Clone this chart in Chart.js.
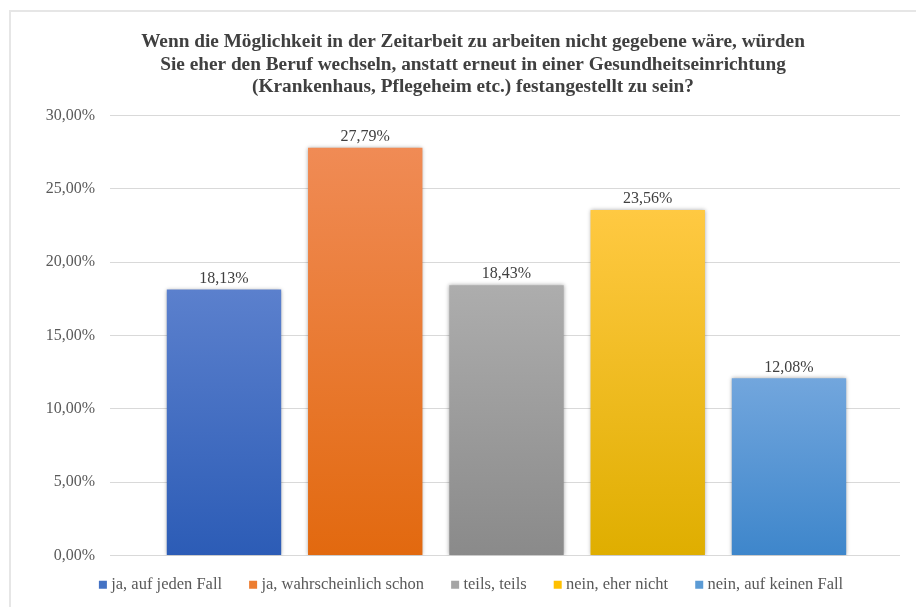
<!DOCTYPE html>
<html lang="de">
<head>
<meta charset="utf-8">
<title>Zeitarbeit – Berufswechsel</title>
<script src="https://cdn.jsdelivr.net/npm/chart.js@4.4.1/dist/chart.umd.min.js"></script>
<style>
  html, body { margin: 0; padding: 0; background: #fff; }
  #wrap { position: relative; width: 916px; height: 607px; overflow: hidden; }
  #frame { position: absolute; left: 9px; top: 10px; width: 1000px; height: 700px;
           border-left: 2px solid #e6e6e6; border-top: 2px solid #e6e6e6; }
  #chart { position: absolute; left: 0; top: 0; }
</style>
</head>
<body>
<div id="wrap">
  <div id="frame"></div>
  <canvas id="chart" width="916" height="607"></canvas>
</div>
<script>
// Daten
const categories = ['ja, auf jeden Fall', 'ja, wahrscheinlich schon', 'teils, teils', 'nein, eher nicht', 'nein, auf keinen Fall'];
const values = [18.13, 27.79, 18.43, 23.56, 12.08];
const yTicks = [0, 5, 10, 15, 20, 25, 30];

// Farben (oben hell, unten dunkel)
const topColors = ['#5b80cd', '#f08b55', '#adadad', '#ffc942', '#72a6dd'];
const bottomColors = ['#2c5cb6', '#e2690f', '#8a8a8a', '#dfae00', '#3e86cb'];
const legendColors = ['#4472c4', '#ed7d31', '#a5a5a5', '#ffc000', '#5b9bd5'];

const serif = "'Liberation Serif', 'Times New Roman', serif";
const fmt = v => v.toFixed(2).replace('.', ',') + '%';

function barGradient(ctx) {
    const chart = ctx.chart;
    const i = ctx.dataIndex;
    if (!chart.chartArea || i === undefined) return legendColors[i || 0];
    const y = chart.scales.y;
    const g = chart.ctx.createLinearGradient(0, y.getPixelForValue(values[i]), 0, y.getPixelForValue(0));
    g.addColorStop(0, topColors[i]);
    g.addColorStop(1, bottomColors[i]);
    return g;
}

// Schatten + Werte über den Balken
const barExtras = {
    id: 'barExtras',
    beforeDatasetsDraw(chart) {
        const c = chart.ctx;
        c.save();
        c.shadowColor = 'rgba(0,0,0,0.35)';
        c.shadowBlur = 4;
    },
    afterDatasetsDraw(chart) {
        const c = chart.ctx;
        c.restore();
        c.save();
        c.font = '16px ' + serif;
        c.fillStyle = '#404040';
        c.textAlign = 'center';
        c.textBaseline = 'middle';
        chart.getDatasetMeta(0).data.forEach((bar, i) => {
            c.fillText(fmt(values[i]), bar.x, bar.y - 11);
        });
        c.restore();
    }
};

new Chart(document.getElementById('chart'), {
    type: 'bar',
    data: {
        labels: categories,
        datasets: [{
            data: values.map((v, i) => ({ x: i, y: v })),
            backgroundColor: barGradient,
            borderWidth: 0,
            barPercentage: 0.81,
            categoryPercentage: 1
        }]
    },
    options: {
        responsive: false,
        animation: false,
        layout: { padding: { left: 46, right: 16, top: 0, bottom: 4 } },
        plugins: {
            title: {
                display: true,
                text: [
                    'Wenn die Möglichkeit in der Zeitarbeit zu arbeiten nicht gegebene wäre, würden',
                    'Sie eher den Beruf wechseln, anstatt erneut in einer Gesundheitseinrichtung',
                    '(Krankenhaus, Pflegeheim etc.) festangestellt zu sein?'
                ],
                color: '#404040',
                font: { family: serif, size: 19.3, weight: 'bold', lineHeight: 1.165 },
                padding: { top: 31, bottom: 17 }
            },
            legend: {
                position: 'bottom',
                title: { display: true, text: '', font: { size: 0 }, padding: { top: -10, bottom: 0 } },
                labels: {
                    usePointStyle: true,
                    pointStyle: 'rect',
                    boxWidth: 0.1,
                    boxHeight: 8,
                    padding: 31,
                    color: '#595959',
                    font: { family: serif, size: 16.5 },
                    generateLabels: () => categories.map((c, i) => ({
                        text: c,
                        fillStyle: legendColors[i],
                        strokeStyle: legendColors[i],
                        lineWidth: 0,
                        pointStyle: 'rect',
                        fontColor: '#595959',
                        hidden: false,
                        index: i
                    }))
                },
                onClick: () => {}
            },
            tooltip: { enabled: false }
        },
        scales: {
            x: {
                type: 'linear',
                min: -0.807,
                max: 4.786,
                offset: false,
                display: false,
                afterBuildTicks: s => { s.ticks = categories.map((c, i) => ({ value: i })); }
            },
            y: {
                min: yTicks[0],
                max: yTicks[yTicks.length - 1],
                afterFit: s => { s.width = 64; },
                afterBuildTicks: s => { s.ticks = yTicks.map(v => ({ value: v })); },
                ticks: {
                    callback: v => fmt(v),
                    color: '#595959',
                    padding: 15,
                    font: { family: serif, size: 16 }
                },
                grid: { color: '#d9d9d9', drawTicks: false },
                border: { display: false }
            }
        }
    },
    plugins: [barExtras]
});
</script>
</body>
</html>
